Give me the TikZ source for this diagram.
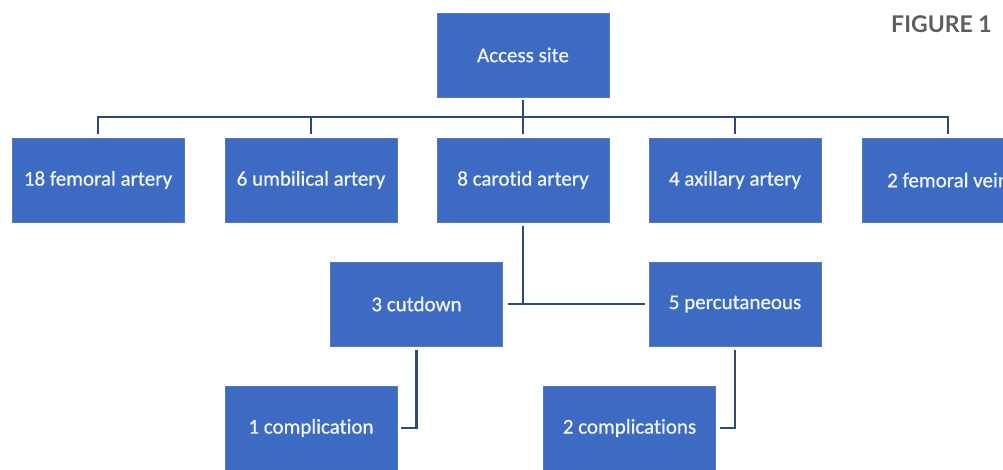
\documentclass[tikz,border=0pt]{standalone}
\usepackage{fontspec}
\setmainfont{Carlito}[Ligatures=NoCommon]
\newfontfamily\boxfont{Carlito}[Ligatures=NoCommon, FakeBold=0.7]
\newfontfamily\figfont{Lato}
\definecolor{boxfill}{HTML}{3D6BC4}
\definecolor{boxedge}{HTML}{5477BE}
\definecolor{conncol}{HTML}{2E4A78}
\definecolor{figgray}{HTML}{5E5E5E}
\definecolor{boxtext}{HTML}{F2F5FB}
\tikzset{
  box/.style={rectangle, fill=boxfill, draw=boxedge, line width=0.6pt,
    minimum width=172pt, minimum height=84pt, inner sep=0pt,
    text=boxtext, font=\boxfont\fontsize{21}{24}\selectfont},
  conn/.style={draw=conncol, line width=2.6pt}
}
\begin{document}
\begin{tikzpicture}[x=1pt,y=-1pt]
\useasboundingbox (0,0) rectangle (1003,470);
\clip (0,0) rectangle (1003,470);
\fill[white] (0,0) rectangle (1003,470);
% nodes
\node[box] (access) at (523,55) {Access site};
\node[box] (fa) at (98,180) {18 femoral artery};
\node[box] (ua) at (311,180) {6 umbilical artery};
\node[box] (ca) at (523,180) {8 carotid artery};
\node[box] (aa) at (735,180) {4 axillary artery};
\node[box] (fv) at (948,180) {2 femoral vein};
\node[box] (cd) at (416.5,304) {3 cutdown};
\node[box] (pc) at (735,304) {5 percutaneous};
\node[box] (c1) at (311,428) {1 complication};
\node[box] (c2) at (629.5,428) {2 complications};
\node[anchor=center, text=figgray, font=\figfont\bfseries\fontsize{23}{26}\selectfont] (fig) at (941.5,24) {FIGURE 1};
% connectors
\coordinate (busL) at (98,117);
\coordinate (busR) at (948,117);
\draw[conn, shorten <=3pt, shorten >=4pt] (access.south) -- (ca.north);
\draw[conn, shorten <=4pt, shorten >=4pt] (fa.north) -- (busL) -- (busR) -- (fv.north);
\draw[conn, shorten <=4pt] (ua.north) -- (ua.north |- busL);
\draw[conn, shorten <=4pt] (aa.north) -- (aa.north |- busL);
\draw[conn, shorten <=4pt] (ca.south) -- (ca.south |- cd.east);
\draw[conn, shorten <=5pt, shorten >=4pt] (cd.east) -- (pc.west);
\draw[conn, shorten <=4pt, shorten >=4pt] (cd.south) |- (c1.east);
\draw[conn, shorten <=4pt, shorten >=4pt] (pc.south) |- (c2.east);
\end{tikzpicture}
\end{document}
